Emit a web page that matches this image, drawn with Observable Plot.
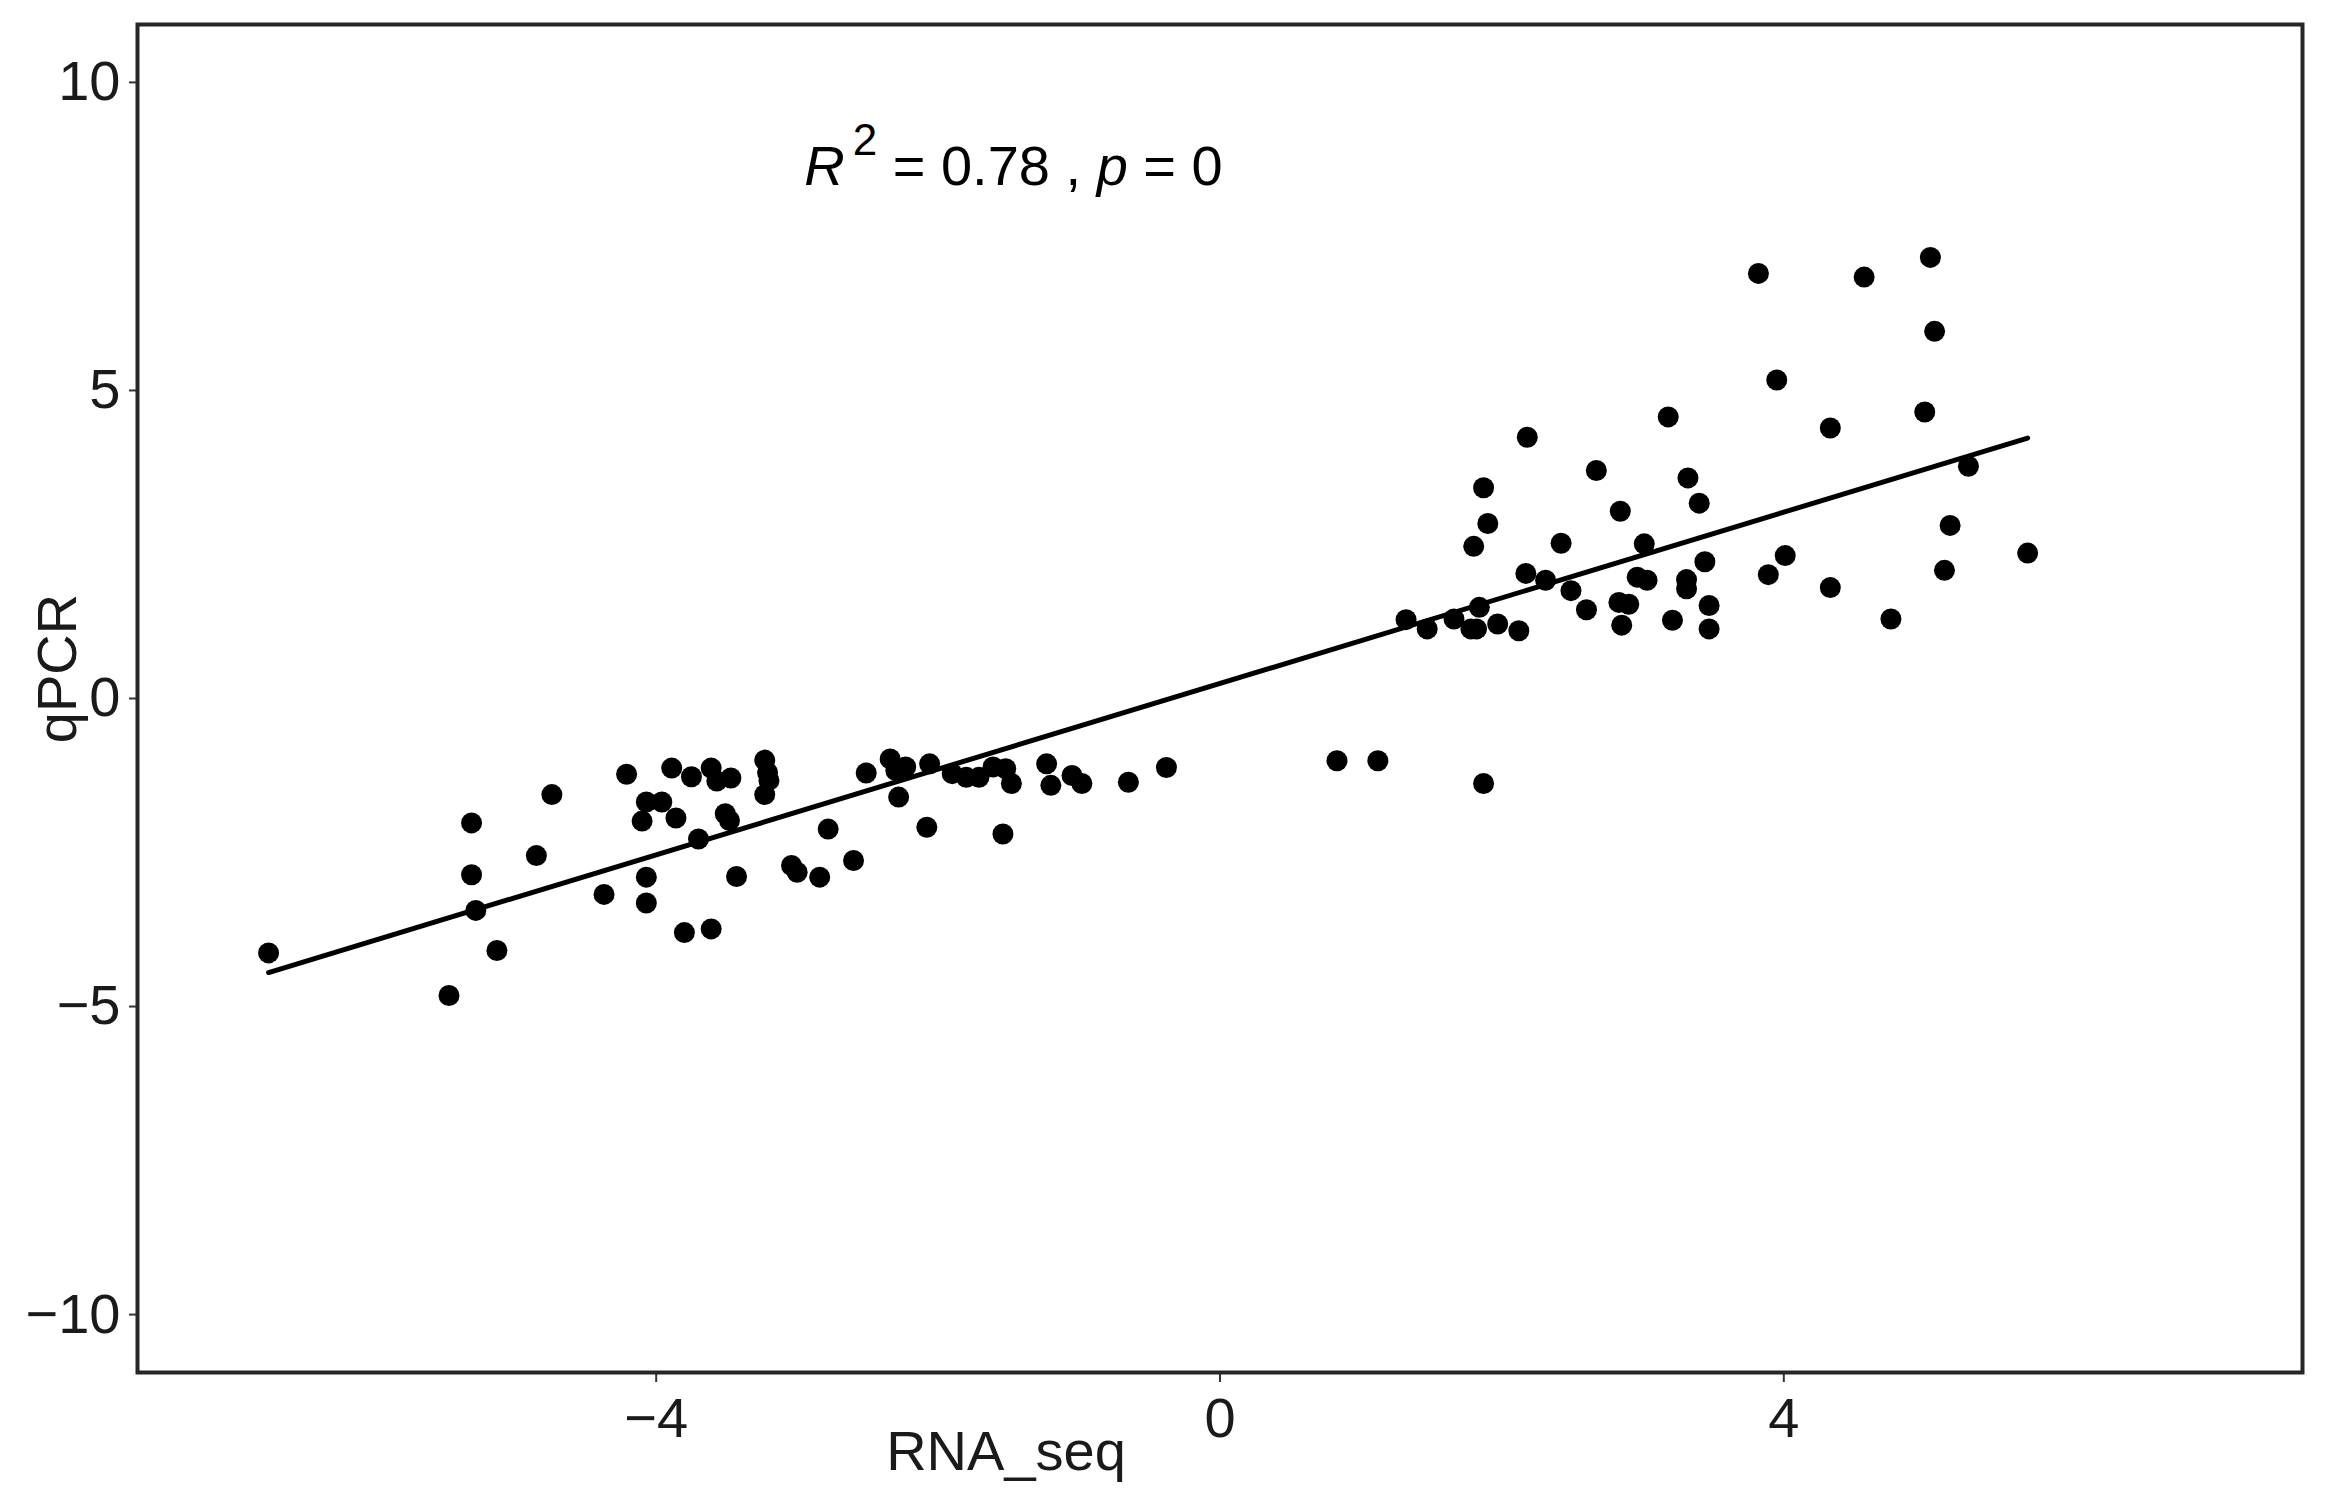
<!DOCTYPE html>
<html><head><meta charset="utf-8">
<script src="https://cdn.jsdelivr.net/npm/d3@7"></script>
<script src="https://cdn.jsdelivr.net/npm/@observablehq/plot@0.6"></script>
<style>html,body{margin:0;padding:0;background:#fff;overflow:hidden}</style>
</head><body><div id="chart"></div>
<script>
// RNA-seq log2 fold change (x) and qPCR log2 fold change (y)
const rnaSeq = [
  -6.75, -5.47, -5.31, -5.31, -5.28, -5.13, -4.74, -4.85, -4.21, -4.37,
  -4.07, -3.96, -4.10, -4.07, -4.07, -3.89, -3.75, -3.61, -3.57, -3.47,
  -3.23, -3.21, -3.20, -3.23, -3.86, -3.51, -3.48, -3.70, -3.43, -3.80,
  -3.61, -3.04, -3.00, -2.84, -2.78, -2.60, -2.51, -2.34, -2.30, -2.28,
  -2.23, -2.06, -1.90, -1.80, -1.71, -1.61, -1.52, -1.48, -2.08, -1.54,
  -1.23, -1.20, -1.05, -0.98, -0.65, -0.38, 0.83, 1.12, 1.87,
  2.18, 3.18, 3.95, 1.87, 1.90, 1.80, 2.67, 3.32, 3.40, 2.84,
  2.42, 3.01, 3.44, 3.89, 2.17, 2.31, 2.49, 2.96, 3.03, 3.31,
  3.31, 2.60, 2.83, 2.90, 3.47, 2.85, 3.21, 3.47, 1.32, 1.47,
  1.66, 1.84, 1.78, 1.82, 1.97, 2.12, 3.82, 4.57, 5.04, 5.07,
  5.00, 4.33, 5.31, 5.18, 5.73, 4.01, 5.14, 4.33, 4.76
];
const qpcr = [
  -4.13, -4.82, -2.02, -2.86, -3.44, -4.09, -1.56, -2.55, -1.23, -3.18,
  -1.68, -1.68, -1.99, -2.90, -3.32, -1.13, -1.27, -1.13, -1.34, -1.29,
  -1.00, -1.20, -1.33, -1.56, -1.94, -1.87, -1.98, -2.28, -2.89, -3.80,
  -3.74, -2.71, -2.82, -2.90, -2.12, -2.63, -1.21, -0.98, -1.17, -1.60,
  -1.11, -1.06, -1.22, -1.28, -1.28, -1.11, -1.14, -1.38, -2.09, -2.20,
  -1.06, -1.41, -1.25, -1.38, -1.36, -1.12, -1.01, -1.01, -1.38,
  4.24, 4.57, 5.17, 3.42, 2.84, 2.47, 3.70, 3.58, 3.17, 3.04,
  2.52, 2.51, 2.22, 2.01, 2.03, 1.92, 1.75, 1.97, 1.92, 1.93,
  1.78, 1.44, 1.56, 1.53, 1.51, 1.19, 1.27, 1.13, 1.28, 1.13,
  1.29, 1.48, 1.13, 1.13, 1.21, 1.10, 6.90, 6.84, 7.16, 5.96,
  4.65, 4.39, 3.77, 2.81, 2.36, 2.32, 2.08, 1.80, 1.29
];
const xTicks = [-4, 0, 4];
const yTicks = [-10, -5, 0, 5, 10];
const xDomain = [-7.68, 7.68];
const yDomain = [-10.94, 10.94];
const xLabel = "RNA_seq";
const yLabel = "qPCR";
const statLabel = "R2 = 0.78 , p = 0";
const statX = [-2.95];
const statY = [8.33];

const data = rnaSeq.map((x, i) => ({RNA_seq: x, qPCR: qpcr[i]}));
const FONT = '"Liberation Sans", Arial, Helvetica, sans-serif';

const chart = Plot.plot({
  width: 2326,
  height: 1506,
  marginLeft: 137,
  marginRight: 24,
  marginTop: 24,
  marginBottom: 134,
  style: {fontFamily: FONT, fontSize: "56px", background: "#fff", color: "#1a1a1a"},
  x: {domain: xDomain},
  y: {domain: yDomain},
  marks: [
    Plot.dot(data, {x: "RNA_seq", y: "qPCR", r: 10.5, fill: "#000", stroke: "none"}),
    Plot.linearRegressionY(data, {x: "RNA_seq", y: "qPCR", stroke: "#000", strokeWidth: 5, ci: 0}),
    Plot.axisX({ticks: xTicks, tickSize: 10, tickPadding: 15, fontSize: 56, label: null, stroke: "#333", strokeWidth: 2}),
    Plot.axisY({ticks: yTicks, tickSize: 8, tickPadding: 9, fontSize: 56, label: null, stroke: "#333", strokeWidth: 2}),
    Plot.text([xLabel], {frameAnchor: "bottom", text: d => d, dx: -214, dy: 80, fontSize: 56, textAnchor: "middle", lineAnchor: "middle", fill: "#1a1a1a"}),
    Plot.text([yLabel], {frameAnchor: "left", text: d => d, rotate: -90, dx: -79, dy: -30, fontSize: 56, textAnchor: "middle", lineAnchor: "middle", fill: "#1a1a1a"}),
    Plot.text([statLabel], {x: statX, y: statY, text: d => d, textAnchor: "start", lineAnchor: "bottom", fontSize: 56, fill: "#000"}),
    Plot.frame({stroke: "#262626", strokeWidth: 4})
  ]
});
document.getElementById("chart").appendChild(chart);

// Rebuild the stat label as plotmath-like text: italic R, superscript 2, italic p
const NS = "http://www.w3.org/2000/svg";
chart.querySelectorAll("text").forEach(t => {
  if (t.textContent === statLabel) {
    t.textContent = "";
    const parts = [
      {s: "R", italic: true},
      {s: "2", size: 44, dy: -30, dx: 8},
      {s: " = 0.78 , ", dy: 30},
      {s: "p", italic: true},
      {s: " = 0"}
    ];
    parts.forEach(p => {
      const ts = document.createElementNS(NS, "tspan");
      ts.textContent = p.s;
      if (p.italic) ts.setAttribute("font-style", "italic");
      if (p.size) ts.setAttribute("font-size", p.size);
      if (p.dy) ts.setAttribute("dy", p.dy);
      if (p.dx) ts.setAttribute("dx", p.dx);
      t.appendChild(ts);
    });
  }
});
</script>
</body></html>
